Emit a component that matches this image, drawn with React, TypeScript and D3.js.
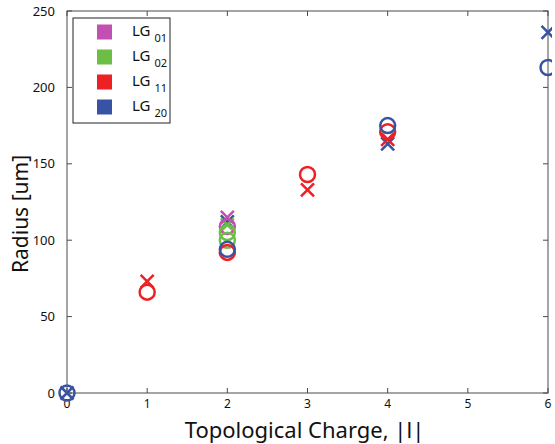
import * as d3 from "d3";
import React from "react";

// series: measured radius (circles) and theory (crosses) vs |l|
const modes = ["01", "02", "11", "20"];
const colors = ["#c150b2", "#6cbe45", "#ed2024", "#3953a4"];

const lg01Measured = [[2, 109]];
const lg01Theory = [[2, 115]];
const lg02Measured = [[2, 105], [2, 100]];
const lg02Theory = [[2, 110]];
const lg11Measured = [[1, 66], [2, 92], [3, 143], [4, 171]];
const lg11Theory = [[1, 73], [3, 133], [4, 166]];
const lg20Measured = [[0, 0], [2, 94], [4, 175], [6, 213]];
const lg20Theory = [[0, 0], [2, 112], [4, 163], [6, 236]];

const measured = [lg01Measured, lg02Measured, lg11Measured, lg20Measured];
const theory = [lg01Theory, lg02Theory, lg11Theory, lg20Theory];

const xTicks = [0, 1, 2, 3, 4, 5, 6];
const yTicks = [0, 50, 100, 150, 200, 250];

const font = "'Noto Sans', 'Open Sans', sans-serif";

export default function App() {
  const svgWidth = 555;
  const svgHeight = 444;
  const margin = { top: 11, right: 7, bottom: 51, left: 67 };
  const w = svgWidth - margin.left - margin.right;
  const h = svgHeight - margin.top - margin.bottom;

  const x = d3.scaleLinear().domain([0, 6]).range([0, w]);
  const y = d3.scaleLinear().domain([0, 250]).range([h, 0]);

  const axisColor = "#4a4a4a";
  const tickLen = 5;
  const r = 7.5;
  const xs = 6.5;

  // crosses: blue first so the others sit on top
  const crosses: React.ReactNode[] = [];
  for (let i = theory.length - 1; i >= 0; i--) {
    theory[i].forEach((p, j) => {
      const cx = x(p[0]);
      const cy = y(p[1]);
      crosses.push(
        <path
          key={"t" + i + "-" + j}
          d={`M${cx - xs},${cy - xs}L${cx + xs},${cy + xs}M${cx - xs},${cy + xs}L${cx + xs},${cy - xs}`}
          stroke={colors[i]}
          strokeWidth={2.5}
          fill="none"
        />
      );
    });
  }
  const circles: React.ReactNode[] = [];
  measured.forEach((pts, i) => {
    pts.forEach((p, j) => {
      circles.push(
        <circle
          key={"m" + i + "-" + j}
          cx={x(p[0])}
          cy={y(p[1])}
          r={r}
          fill="none"
          stroke={colors[i]}
          strokeWidth={2.5}
        />
      );
    });
  });

  const legendRows = [32, 57, 82, 107];

  return (
    <svg
      width={svgWidth}
      height={svgHeight}
      style={{ position: "absolute", left: 0, top: 0, background: "#fff" }}
    >
      <defs>
        <clipPath id="plotClip">
          <rect x={-20} y={-20} width={w + 24} height={h + 40} />
        </clipPath>
      </defs>
      <g transform={`translate(${margin.left},${margin.top})`}>
        <rect x={0} y={0} width={w} height={h} fill="none" stroke={axisColor} strokeWidth={1} />
        {xTicks.map((t) => (
          <g key={"xt" + t}>
            <line x1={x(t)} x2={x(t)} y1={h} y2={h - tickLen} stroke={axisColor} />
            <line x1={x(t)} x2={x(t)} y1={0} y2={tickLen} stroke={axisColor} />
            <text x={x(t)} y={h + 15} textAnchor="middle" fontSize={12} fontFamily={font} fill="#111">
              {t}
            </text>
          </g>
        ))}
        {yTicks.map((t) => (
          <g key={"yt" + t}>
            <line x1={0} x2={tickLen} y1={y(t)} y2={y(t)} stroke={axisColor} />
            <line x1={w} x2={w - tickLen} y1={y(t)} y2={y(t)} stroke={axisColor} />
            <text x={-12} y={y(t)} dy="0.35em" textAnchor="end" fontSize={13} fontFamily={font} fill="#111">
              {t}
            </text>
          </g>
        ))}
        <g clipPath="url(#plotClip)">
          {crosses}
          {circles}
        </g>
      </g>

      <g>
        <rect x={73} y={18} width={97} height={105} fill="#fff" stroke="#222" strokeWidth={1} />
        {modes.map((m, i) => (
          <g key={m}>
            <rect x={97} y={legendRows[i] - 7.5} width={15} height={15} fill={colors[i]} />
            <text x={132} y={legendRows[i] + 4} fontSize={15} fontFamily={font} fill="#111">
              LG
              <tspan dx={4} dy={6} fontSize={11}>
                {m}
              </tspan>
            </text>
          </g>
        ))}
      </g>

      <text x={margin.left + w / 2 - 3} y={438} textAnchor="middle" fontSize={22} fontFamily={font} fill="#111">
        Topological Charge, |l|
      </text>
      <text
        transform={`translate(28,${214}) rotate(-90)`}
        textAnchor="middle"
        fontSize={21}
        fontFamily={font}
        fill="#111"
      >
        Radius [um]
      </text>
    </svg>
  );
}
